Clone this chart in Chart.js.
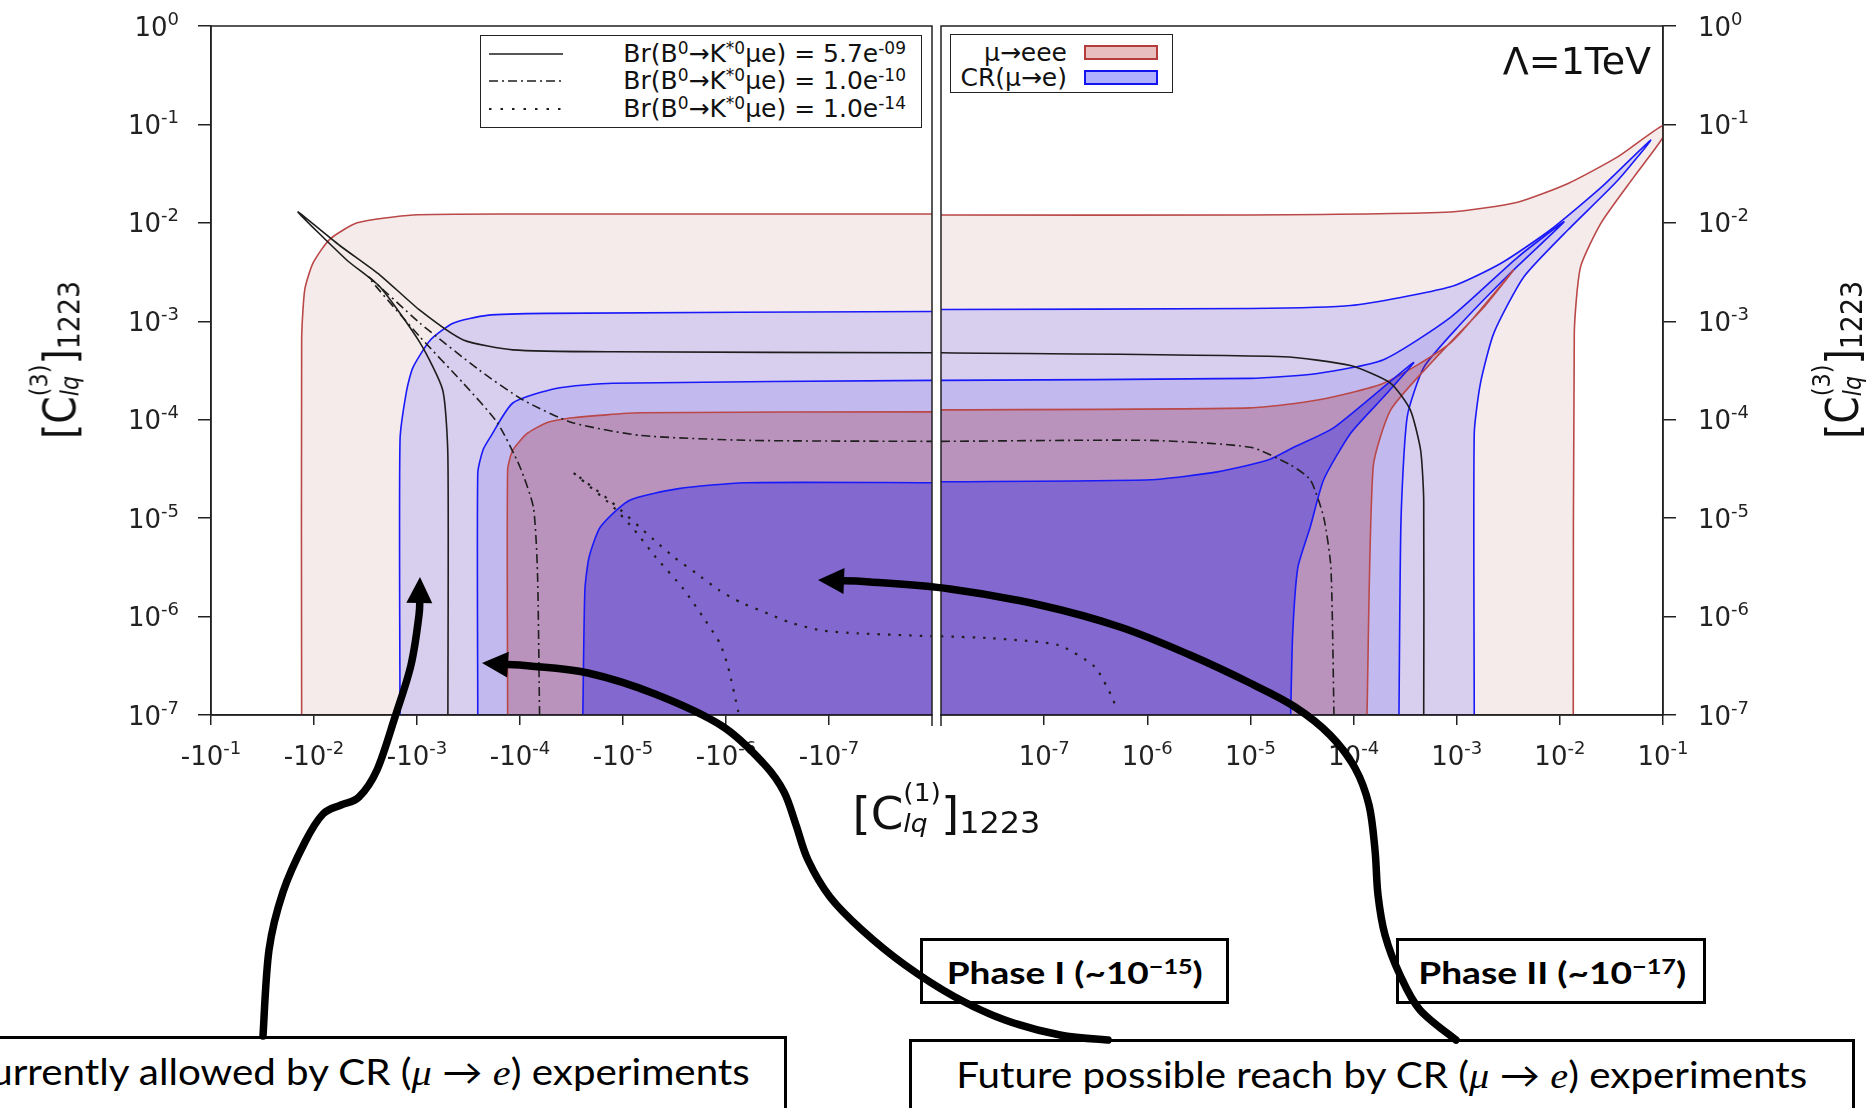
<!DOCTYPE html>
<html>
<head>
<meta charset="utf-8">
<title>[C_lq(1)] vs [C_lq(3)]</title>
<script src="https://cdn.jsdelivr.net/npm/chart.js@4.4.1/dist/chart.umd.min.js"></script>
<style>
  body { margin: 0; width: 1868px; height: 1108px; overflow: hidden; background: #fff; position: relative; font-family: "DejaVu Sans", sans-serif; color: #111; }
  .wrap { position: absolute; top: 0; height: 780px; }
  .txt { position: absolute; left: 0; top: 0; white-space: nowrap; line-height: 1; }
  sup { font-size: 0.68em; vertical-align: 0.5em; line-height: 0; }
  .legend { position: absolute; box-sizing: border-box; border: 1.5px solid #222; background: #fff; }
  .lrow { position: absolute; font-size: 25px; line-height: 1; white-space: nowrap; }
  .patch { position: absolute; box-sizing: border-box; width: 74px; height: 15px; }
  .box { position: absolute; box-sizing: border-box; border: 3px solid #000; background: #fff; }
  .btxt { font-family: Lato, "Open Sans", sans-serif; color: #000; }
  .btxt i { font-family: "Liberation Serif", serif; }
  .lab { font-family: "DejaVu Sans", sans-serif; font-size: 44px; color: #111; }
  .stk { display: inline-block; font-size: 25px; line-height: 31px; vertical-align: -3px; }
  .stk span { display: block; }
  .s4 { font-size: 30px; vertical-align: -4px; }
  #arrows { position: absolute; left: 0; top: 0; }
</style>
</head>
<body>
<div class="wrap" style="left:0;width:934px"><canvas id="leftPanel" width="934" height="780"></canvas></div>
<div class="wrap" style="left:937px;width:931px"><canvas id="rightPanel" width="931" height="780"></canvas></div>

<div class="legend" style="left:480px;top:35px;width:442px;height:93px">
  <svg style="position:absolute;left:6px;top:0" width="80" height="90">
    <line x1="2" y1="18" x2="76" y2="18" stroke="#1e1e1e" stroke-width="1.6"/>
    <line x1="2" y1="45" x2="76" y2="45" stroke="#1e1e1e" stroke-width="1.6" stroke-dasharray="9 4 2 4"/>
    <line x1="2" y1="73" x2="76" y2="73" stroke="#1e1e1e" stroke-width="2.2" stroke-dasharray="2.5 9"/>
  </svg>
  <div class="lrow" style="right:15px;top:5px">Br(B<sup>0</sup>→K<sup>*0</sup>μe) = 5.7e<sup>-09</sup></div>
  <div class="lrow" style="right:15px;top:32px">Br(B<sup>0</sup>→K<sup>*0</sup>μe) = 1.0e<sup>-10</sup></div>
  <div class="lrow" style="right:15px;top:60px">Br(B<sup>0</sup>→K<sup>*0</sup>μe) = 1.0e<sup>-14</sup></div>
</div>

<div class="legend" style="left:950px;top:34px;width:223px;height:59px">
  <div class="lrow" style="right:105px;top:5px">μ→eee</div>
  <div class="patch" style="left:133px;top:10px;background:rgb(232,190,190);border:2px solid rgb(180,60,60)"></div>
  <div class="lrow" style="right:105px;top:30px">CR(μ→e)</div>
  <div class="patch" style="left:133px;top:35px;background:rgb(176,176,255);border:2px solid rgb(20,20,240)"></div>
</div>

<div class="txt" style="left:auto;right:217px;top:42px;font-size:38px">Λ=1TeV</div>

<div class="txt lab" id="xLab">[C<span class="stk"><span>(1)</span><span><i>lq</i></span></span>]<span class="s4">1223</span></div>
<div class="txt lab" id="yLabL">[C<span class="stk"><span>(3)</span><span><i>lq</i></span></span>]<span class="s4">1223</span></div>
<div class="txt lab" id="yLabR">[C<span class="stk"><span>(3)</span><span><i>lq</i></span></span>]<span class="s4">1223</span></div>

<div class="box" style="left:-80px;top:1036px;width:867px;height:110px"></div>
<div class="box" style="left:909px;top:1039px;width:946px;height:110px"></div>
<div class="box" style="left:920px;top:938px;width:309px;height:66px"></div>
<div class="box" style="left:1396px;top:938px;width:310px;height:66px"></div>
<div class="txt btxt" id="tNow" style="font-size:36px">Currently allowed by CR (<i>μ</i> → <i>e</i>) experiments</div>
<div class="txt btxt" id="tFut" style="font-size:36px">Future possible reach by CR (<i>μ</i> → <i>e</i>) experiments</div>
<div class="txt btxt" id="tP1" style="font-size:30px;font-weight:bold">Phase I (~10<sup>−15</sup>)</div>
<div class="txt btxt" id="tP2" style="font-size:30px;font-weight:bold">Phase II (~10<sup>−17</sup>)</div>

<svg id="arrows" width="1868" height="1108"></svg>

<script>
// all points are [log10|C1|, log10 C3]; left panel is C1 < 0
const yTickExp = [0, -1, -2, -3, -4, -5, -6, -7];
const xTickExp = [-1, -2, -3, -4, -5, -6, -7];

// mu -> eee, current bound
const eeeNowL = [[-1.88,-7],[-1.88,-3.19],[-1.91,-2.68],[-1.99,-2.41],[-2.15,-2.17],[-2.42,-2.00],[-2.96,-1.92],[-3.93,-1.91],[-8,-1.91]];
const eeeNowR = [[-8,-1.92],[-5.0,-1.92],[-3.06,-1.89],[-2.41,-1.79],[-1.92,-1.60],[-1.44,-1.33],[-1.0,-1.01],[-1.0,-1.13],[-1.28,-1.53],[-1.60,-2.00],[-1.80,-2.45],[-1.86,-3.12],[-1.87,-7]];
// CR(mu -> e), current bound
const crNowL = [[-2.835,-7],[-2.835,-4.21],[-2.90,-3.70],[-2.96,-3.47],[-3.13,-3.19],[-3.35,-3.02],[-3.68,-2.94],[-4.26,-2.92],[-8,-2.90]];
const crNowR = [[-8,-2.88],[-5.0,-2.87],[-4.03,-2.84],[-3.06,-2.65],[-2.57,-2.41],[-2.09,-2.07],[-1.60,-1.64],[-1.12,-1.16],[-1.44,-1.57],[-1.92,-2.07],[-2.35,-2.55],[-2.64,-3.12],[-2.77,-3.63],[-2.83,-4.14],[-2.83,-7]];
// CR(mu -> e), phase I
const crIL = [[-3.59,-7],[-3.59,-4.54],[-3.64,-4.31],[-3.71,-4.18],[-3.93,-3.83],[-4.36,-3.68],[-4.90,-3.63],[-8,-3.60]];
const crIR = [[-8,-3.60],[-5.0,-3.58],[-4.35,-3.53],[-3.71,-3.39],[-3.06,-2.96],[-2.41,-2.35],[-1.96,-1.99],[-2.48,-2.51],[-2.99,-3.06],[-3.32,-3.47],[-3.48,-3.97],[-3.54,-5.02],[-3.56,-7]];
// mu -> eee, future
const eeeFutL = [[-3.88,-7],[-3.88,-4.51],[-3.93,-4.31],[-4.07,-4.14],[-4.26,-4.03],[-4.51,-3.98],[-5.17,-3.93],[-8,-3.92]];
const eeeFutR = [[-8,-3.90],[-5.0,-3.88],[-4.35,-3.80],[-3.71,-3.63],[-3.06,-3.22],[-2.45,-2.48],[-2.74,-2.86],[-3.22,-3.39],[-3.64,-3.90],[-3.81,-4.48],[-3.87,-7]];
// CR(mu -> e), phase II
const crIIL = [[-4.61,-7],[-4.63,-5.73],[-4.67,-5.40],[-4.78,-5.09],[-5.06,-4.82],[-5.54,-4.70],[-6.18,-4.64],[-8,-4.64]];
const crIIR = [[-8,-4.63],[-5.97,-4.61],[-5.32,-4.53],[-4.83,-4.41],[-4.58,-4.28],[-4.19,-4.08],[-3.42,-3.42],[-3.71,-3.77],[-4.03,-4.14],[-4.29,-4.61],[-4.42,-5.09],[-4.54,-5.50],[-4.59,-6.17],[-4.61,-7]];

// Br(B0 -> K*0 mu e) contours
const br57L = [[-3.30,-7],[-3.30,-4.38],[-3.25,-3.70],[-3.03,-3.22],[-2.64,-2.65],[-2.32,-2.38],[-1.845,-1.89],[-2.25,-2.23],[-2.64,-2.53],[-3.03,-2.89],[-3.45,-3.19],[-3.93,-3.29],[-4.90,-3.31],[-8,-3.32]];
const br57R = [[-8,-3.32],[-4.68,-3.36],[-4.03,-3.45],[-3.64,-3.63],[-3.45,-3.90],[-3.35,-4.31],[-3.32,-4.82],[-3.32,-7]];
const br10L = [[-4.19,-7],[-4.17,-5.56],[-4.13,-4.89],[-4.00,-4.48],[-3.78,-4.03],[-3.45,-3.63],[-3.03,-3.16],[-2.53,-2.55],[-3.03,-3.02],[-3.61,-3.50],[-4.03,-3.80],[-4.51,-4.03],[-5.17,-4.16],[-6.23,-4.21],[-8,-4.22]];
const br10R = [[-8,-4.22],[-5.97,-4.21],[-5.0,-4.28],[-4.61,-4.46],[-4.42,-4.61],[-4.29,-4.99],[-4.22,-5.50],[-4.19,-7]];
const br14L = [[-6.12,-6.97],[-6.02,-6.51],[-5.94,-6.27],[-5.80,-6.04],[-5.58,-5.71],[-5.32,-5.40],[-5.11,-5.12],[-4.89,-4.87],[-4.52,-4.54],[-4.87,-4.82],[-5.30,-5.22],[-5.50,-5.40],[-5.71,-5.56],[-5.93,-5.73],[-6.15,-5.86],[-6.41,-5.97],[-6.62,-6.06],[-6.92,-6.14],[-7.27,-6.17],[-8,-6.20]];
const br14R = [[-8,-6.20],[-7.51,-6.22],[-6.86,-6.29],[-6.51,-6.51],[-6.34,-6.82],[-6.30,-6.94]];

const CORNER = [-8, -7];
const RED = 'rgb(186,72,72)';
const BLUE = 'rgb(25,25,250)';
const GREY = '#1e1e1e';

const toXY = a => a.map(p => ({x: 10 ** p[0], y: 10 ** p[1]}));

function region(curve, fill, line, order) {
  // the end point is repeated so the closing corner does not bend the spline
  const closed = curve.concat([curve[curve.length - 1], CORNER]);
  return [
    {data: toXY(closed), showLine: true, fill: 'shape', backgroundColor: fill,
     borderColor: 'rgba(0,0,0,0)', borderWidth: 0, pointRadius: 0, tension: 0.2, order: order + 1},
    {data: toXY(curve), showLine: true, fill: false, borderColor: line, borderWidth: 1.6,
     pointRadius: 0, tension: 0.2, order: order}
  ];
}
function brLine(curve, dash, width, order) {
  return {data: toXY(curve), showLine: true, fill: false, borderColor: GREY, borderWidth: width,
          borderDash: dash, pointRadius: 0, tension: 0.2, order: order};
}

// box round each panel, the inner edge runs a little below the axis
const framePlugin = {
  id: 'frame',
  afterDatasetsDraw(chart, args, opts) {
    const {ctx, chartArea: a} = chart;
    ctx.save();
    ctx.strokeStyle = '#222';
    ctx.lineWidth = 1.5;
    ctx.strokeRect(a.left, a.top, a.right - a.left, a.bottom - a.top);
    const ex = opts.inner === 'right' ? a.right : a.left;
    ctx.beginPath();
    ctx.moveTo(ex, a.bottom);
    ctx.lineTo(ex, a.bottom + 11);
    ctx.stroke();
    ctx.restore();
  }
};

// tick labels as 10 with a raised exponent
const powLabels = {
  id: 'powLabels',
  afterDraw(chart, args, opts) {
    const {ctx, scales: {x, y}} = chart;
    const big = '26px "DejaVu Sans"', small = '18px "DejaVu Sans"';
    ctx.save();
    ctx.fillStyle = '#222';
    ctx.textAlign = 'left';
    ctx.textBaseline = 'alphabetic';
    const draw = (base, exp, px, py, align) => {
      ctx.font = big;
      const w1 = ctx.measureText(base).width;
      ctx.font = small;
      const w = w1 + ctx.measureText(exp).width;
      const x0 = align === 'center' ? px - w / 2 : align === 'right' ? px - w : px;
      ctx.font = big;
      ctx.fillText(base, x0, py);
      ctx.font = small;
      ctx.fillText(exp, x0 + w1, py - 11);
    };
    const expOf = v => String(Math.round(Math.log10(v)));
    x.ticks.forEach(t => draw((opts.neg ? '-' : '') + '10', expOf(t.value), x.getPixelForValue(t.value), 765, 'center'));
    y.ticks.forEach(t => draw('10', expOf(t.value), opts.yAt, y.getPixelForValue(t.value) + 9.5, opts.yAlign));
    ctx.restore();
  }
};

function panel(canvasId, side, sets) {
  const isLeft = side === 'left';
  return new Chart(document.getElementById(canvasId), {
    type: 'scatter',
    data: {datasets: sets},
    options: {
      responsive: false,
      animation: false,
      events: [],
      layout: {padding: isLeft ? {left: 0, top: 26, right: 2, bottom: 0} : {left: 4, top: 26, right: 0, bottom: 0}},
      scales: {
        x: {
          type: 'logarithmic', min: 1e-8, max: 1e-1, reverse: isLeft,
          afterBuildTicks: s => { s.ticks = xTickExp.map(e => ({value: 10 ** e})); },
          afterFit: s => { s.height = 65; },
          ticks: {display: false, padding: 0},
          grid: {drawOnChartArea: false, tickLength: 10, color: '#222', lineWidth: 1.5},
          border: {color: '#222', width: 1.5}
        },
        y: {
          type: 'logarithmic', position: side, min: 1e-7, max: 1,
          afterBuildTicks: s => { s.ticks = yTickExp.map(e => ({value: 10 ** e})); },
          afterFit: s => { s.width = isLeft ? 211 : 205; },
          ticks: {display: false, padding: 0},
          grid: {drawOnChartArea: false, tickLength: 13, color: '#222', lineWidth: 1.5},
          border: {color: '#222', width: 1.5}
        }
      },
      plugins: {
        legend: {display: false},
        tooltip: {enabled: false},
        frame: {inner: isLeft ? 'right' : 'left'},
        powLabels: isLeft ? {neg: true, yAt: 179, yAlign: 'right'} : {neg: false, yAt: 761, yAlign: 'left'}
      }
    },
    plugins: [framePlugin, powLabels]
  });
}

panel('leftPanel', 'left', [
  ...region(eeeNowL, 'rgba(160,30,30,0.09)', RED, 20),
  ...region(crNowL, 'rgba(0,0,255,0.12)', BLUE, 18),
  ...region(crIL, 'rgba(0,0,255,0.10)', BLUE, 16),
  ...region(eeeFutL, 'rgba(160,30,30,0.24)', RED, 14),
  ...region(crIIL, 'rgba(0,0,255,0.29)', BLUE, 12),
  brLine(br57L, [], 1.6, 3),
  brLine(br10L, [9, 4, 2, 4], 1.6, 2),
  brLine(br14L, [2.5, 8], 2.2, 1)
]);
panel('rightPanel', 'right', [
  ...region(eeeNowR, 'rgba(160,30,30,0.09)', RED, 20),
  ...region(crNowR, 'rgba(0,0,255,0.12)', BLUE, 18),
  ...region(crIR, 'rgba(0,0,255,0.10)', BLUE, 16),
  ...region(eeeFutR, 'rgba(160,30,30,0.24)', RED, 14),
  ...region(crIIR, 'rgba(0,0,255,0.29)', BLUE, 12),
  brLine(br57R, [], 1.6, 3),
  brLine(br10R, [9, 4, 2, 4], 1.6, 2),
  brLine(br14R, [2.5, 8], 2.2, 1)
]);

// place and stretch text so it spans the same width as in the figure
function place(id, w, cx, cy, rot) {
  const el = document.getElementById(id);
  const r = el.getBoundingClientRect();
  const s = w / r.width;
  el.style.left = (cx - r.width / 2) + 'px';
  el.style.top = (cy - r.height / 2) + 'px';
  el.style.transform = (rot ? 'rotate(' + rot + 'deg) ' : '') + 'scaleX(' + s + ')';
  return {el, r, s};
}
place('xLab', 188, 946, 808, 0);
place('yLabL', 158, 54, 360, -90);
place('yLabR', 158, 1837, 360, -90);
const fut = place('tFut', 851, 1382, 1075, 0);
const now = document.getElementById('tNow');
const rn = now.getBoundingClientRect();
now.style.left = (750 - rn.width) + 'px';
now.style.top = (1072 - rn.height / 2) + 'px';
now.style.transformOrigin = 'right center';
now.style.transform = 'scaleX(' + fut.s + ')';
place('tP1', 256, 1075, 972, 0);
place('tP2', 268, 1552, 972, 0);

// annotation arrows (page pixels)
const arrowNow = [[263,1036],[269,950],[283,892],[305,842],[323,814],[341,805],[359,797],[377,770],[395,717],[411,665],[419,615],[420,577]];
const arrowP1 = [[1108,1040],[1060,1035],[1005,1020],[955,997],[905,965],[862,930],[830,897],[808,860],[796,825],[784,792],[764,764],[722,726],[655,694],[588,673],[530,666],[482,663]];
const arrowP2 = [[1456,1040],[1420,1010],[1400,975],[1385,935],[1378,895],[1375,850],[1369,805],[1355,768],[1330,735],[1295,707],[1250,683],[1190,655],[1120,627],[1040,605],[950,589],[870,582],[818,580]];

function smooth(p) {
  let d = 'M' + p[0][0] + ',' + p[0][1];
  for (let i = 0; i < p.length - 1; i++) {
    const a = p[i - 1] || p[i], b = p[i], c = p[i + 1], e = p[i + 2] || c;
    d += ' C' + (b[0] + (c[0] - a[0]) / 6) + ',' + (b[1] + (c[1] - a[1]) / 6) + ' ' +
         (c[0] - (e[0] - b[0]) / 6) + ',' + (c[1] - (e[1] - b[1]) / 6) + ' ' + c[0] + ',' + c[1];
  }
  return d;
}
function drawArrow(p) {
  const svg = document.getElementById('arrows');
  const tip = p[p.length - 1], prev = p[p.length - 2];
  const L = Math.hypot(tip[0] - prev[0], tip[1] - prev[1]);
  const ux = (tip[0] - prev[0]) / L, uy = (tip[1] - prev[1]) / L;
  const hl = 26, hw = 13;
  const body = p.slice(0, -1).concat([[tip[0] - ux * (hl - 6), tip[1] - uy * (hl - 6)]]);
  const bx = tip[0] - ux * hl, by = tip[1] - uy * hl;
  svg.insertAdjacentHTML('beforeend',
    '<path d="' + smooth(body) + '" fill="none" stroke="#000" stroke-width="7.5" stroke-linecap="round"/>' +
    '<polygon points="' + tip[0] + ',' + tip[1] + ' ' + (bx - uy * hw) + ',' + (by + ux * hw) + ' ' +
    (bx + uy * hw) + ',' + (by - ux * hw) + '" fill="#000"/>');
}
drawArrow(arrowNow);
drawArrow(arrowP1);
drawArrow(arrowP2);
</script>
</body>
</html>
